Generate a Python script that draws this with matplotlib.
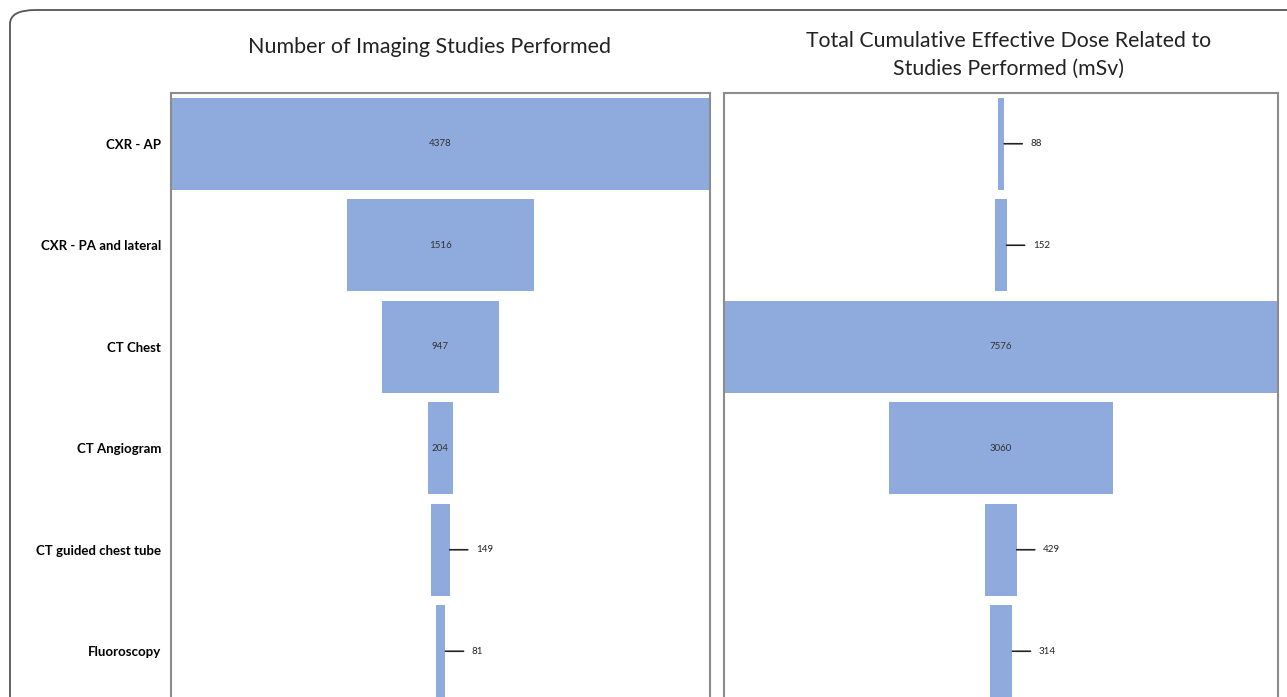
import matplotlib.pyplot as plt
from matplotlib.patches import FancyBboxPatch

# data
categories = ['CXR - AP', 'CXR - PA and lateral', 'CT Chest', 'CT Angiogram',
              'CT guided chest tube', 'Fluoroscopy']
n_studies = [4378, 1516, 947, 204, 149, 81]
dose_msv = [88, 152, 7576, 3060, 429, 314]
# label inside the bar or outside with a leader line
inside_left = [True, True, True, True, False, False]
inside_right = [False, False, True, True, False, False]

bar_color = '#8faadc'
plt.rcParams['font.family'] = ['Lato', 'DejaVu Sans']

fig = plt.figure(figsize=(12.87, 6.97), dpi=100)

# rounded outer frame (right and bottom cut off like the reference)
frame = FancyBboxPatch((10 / 1287, -0.2), 1.2, 1 - 10 / 697 + 0.2,
                       boxstyle='round,pad=0,rounding_size=0.02',
                       transform=fig.transFigure, fill=False,
                       edgecolor='#555555', linewidth=1.3, clip_on=False)
fig.patches.append(frame)

W, H = 1287, 697
ax1 = fig.add_axes([171 / W, 1 - 702 / H, (710 - 171) / W, (702 - 93) / H])
ax2 = fig.add_axes([724 / W, 1 - 702 / H, (1278 - 724) / W, (702 - 93) / H])


def funnel(ax, values, inside):
    y = list(range(len(values)))
    left = [-v / 2 for v in values]
    ax.barh(y, values, left=left, height=0.91, color=bar_color)
    m = max(values)
    ax.set_xlim(-m / 2, m / 2)
    ax.set_ylim(len(values) - 0.5, -0.5)
    for yi, v, ins in zip(y, values, inside):
        if ins:
            ax.text(0, yi, str(v), ha='center', va='center', fontsize=7,
                    color='#333333')
        else:
            ax.annotate(str(v), xy=(v / 2, yi), xytext=(19, 0),
                        textcoords='offset points', ha='left', va='center',
                        fontsize=7, color='#222222',
                        arrowprops=dict(arrowstyle='-', color='#222222', lw=1.2,
                                        relpos=(0, 0.5), shrinkA=4, shrinkB=0))
    ax.set_xticks([])
    ax.tick_params(length=0)
    for s in ax.spines.values():
        s.set_color('#8c8c8c')
        s.set_linewidth(1.5)


funnel(ax1, n_studies, inside_left)
funnel(ax2, dose_msv, inside_right)

ax1.set_yticks(range(len(categories)))
ax1.set_yticklabels(categories, fontsize=9.5, fontweight='bold')
ax1.tick_params(axis='y', pad=7)
ax2.set_yticks([])

fig.text(430 / W, 1 - 47 / H, 'Number of Imaging Studies Performed',
         ha='center', va='center', fontsize=15.5, color='#222222')
fig.text(1009 / W, 1 - 55 / H,
         'Total Cumulative Effective Dose Related to\nStudies Performed (mSv)',
         ha='center', va='center', fontsize=15.3, color='#222222',
         linespacing=1.45)

fig.savefig('out.png', dpi=100)
